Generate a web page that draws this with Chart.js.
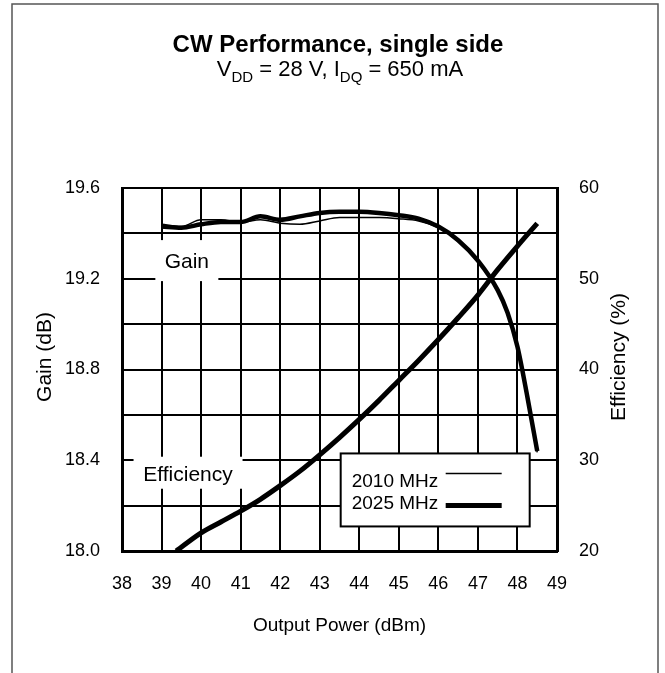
<!DOCTYPE html>
<html lang="en">
<head>
  <meta charset="UTF-8">
  <title>CW Performance, single side</title>
  <script src="https://cdn.jsdelivr.net/npm/chart.js"></script>
  <style>
    html, body { margin: 0; padding: 0; background: #fff; }
    canvas { display: block; }
  </style>
</head>
<body>
  <canvas id="chart" width="665" height="673"></canvas>

  <script>
    // output power (dBm) for the gain curves
    const powerGain = [39, 39.5, 40, 40.5, 41, 41.5, 42, 42.5, 43, 43.5, 44, 44.5, 45, 45.5, 46, 46.5, 47, 47.5, 47.75, 48, 48.25, 48.5];
    const gain2010 = [19.44, 19.43, 19.46, 19.46, 19.45, 19.46, 19.445, 19.44, 19.455, 19.47, 19.47, 19.47, 19.465, 19.455, 19.425, 19.365, 19.275, 19.145, 19.045, 18.895, 18.675, 18.435];
    const gain2025 = [19.43, 19.425, 19.44, 19.45, 19.45, 19.475, 19.46, 19.475, 19.49, 19.495, 19.495, 19.49, 19.48, 19.465, 19.43, 19.37, 19.28, 19.15, 19.05, 18.9, 18.68, 18.44];

    // output power (dBm) for the efficiency curves
    const powerEff = [39.37, 40, 40.5, 41, 41.5, 42, 42.5, 43, 43.5, 44, 44.5, 45, 45.5, 46, 46.5, 47, 47.5, 48, 48.5];
    const eff2010 = [20.0, 22.0, 23.2, 24.4, 25.7, 27.2, 28.8, 30.6, 32.5, 34.5, 36.6, 38.8, 41.0, 43.3, 45.7, 48.2, 51.0, 53.6, 56.0];
    const eff2025 = [20.0, 22.0, 23.2, 24.4, 25.7, 27.2, 28.8, 30.6, 32.5, 34.5, 36.6, 38.8, 41.0, 43.3, 45.7, 48.2, 51.0, 53.6, 56.1];

    const gainLabels = [18.0, 18.4, 18.8, 19.2, 19.6];
    const effLabels = [20, 30, 40, 50, 60];
    const seriesNames = ['2010 MHz', '2025 MHz'];

    const FONT = 'Liberation Sans, Arial, Helvetica, sans-serif';

    function pts(xs, ys) {
      return xs.map((x, i) => ({ x: x, y: ys[i] }));
    }

    function line(label, xs, ys, axis, width) {
      return {
        label: label,
        data: pts(xs, ys),
        yAxisID: axis,
        borderColor: '#000',
        borderWidth: width,
        pointRadius: 0,
        fill: false,
        cubicInterpolationMode: 'monotone'
      };
    }

    // title, subtitle, y titles, in-plot labels, legend, frame
    const decor = {
      id: 'decor',
      afterDatasetsDraw(chart) {
        const ctx = chart.ctx;
        const xs = chart.scales.x;
        const ys = chart.scales.y;
        ctx.save();

        // white label boxes over the grid
        function tag(text, px, gy, w, h) {
          const cx = xs.getPixelForValue(px);
          const cy = ys.getPixelForValue(gy);
          ctx.fillStyle = '#fff';
          ctx.fillRect(cx - w / 2, cy - h / 2, w, h);
          ctx.fillStyle = '#000';
          ctx.font = '21px ' + FONT;
          ctx.textAlign = 'center';
          ctx.textBaseline = 'middle';
          ctx.fillText(text, cx, cy + 2);
        }
        tag('Gain', 39.64, 19.28, 63, 41);
        tag('Efficiency', 39.67, 18.345, 109, 32);

        // legend box
        const lx = xs.getPixelForValue(43.53);
        const ly = ys.getPixelForValue(18.43);
        const lw = 189, lh = 73;
        ctx.fillStyle = '#fff';
        ctx.fillRect(lx, ly, lw, lh);
        ctx.strokeStyle = '#000';
        ctx.lineWidth = 2;
        ctx.strokeRect(lx, ly, lw, lh);
        ctx.fillStyle = '#000';
        ctx.font = '19px ' + FONT;
        ctx.textAlign = 'left';
        ctx.textBaseline = 'middle';
        ctx.fillText(seriesNames[0], lx + 11, ly + 28);
        ctx.fillText(seriesNames[1], lx + 11, ly + 50);
        ctx.lineWidth = 1.5;
        ctx.beginPath();
        ctx.moveTo(lx + 105, ly + 20);
        ctx.lineTo(lx + 161, ly + 20);
        ctx.stroke();
        ctx.lineWidth = 5;
        ctx.beginPath();
        ctx.moveTo(lx + 105, ly + 52);
        ctx.lineTo(lx + 161, ly + 52);
        ctx.stroke();

        // titles
        ctx.textAlign = 'center';
        ctx.textBaseline = 'alphabetic';
        ctx.font = 'bold 24px ' + FONT;
        ctx.fillText('CW Performance, single side', 338, 52);

        const parts = [
          ['V', false], ['DD', true], [' = 28 V, I', false], ['DQ', true], [' = 650 mA', false]
        ];
        const big = '22px ' + FONT, small = '15px ' + FONT;
        let total = 0;
        parts.forEach(p => { ctx.font = p[1] ? small : big; total += ctx.measureText(p[0]).width; });
        let x = 340 - total / 2;
        ctx.textAlign = 'left';
        parts.forEach(p => {
          ctx.font = p[1] ? small : big;
          ctx.fillText(p[0], x, p[1] ? 82 : 76);
          x += ctx.measureText(p[0]).width;
        });

        // rotated axis titles
        ctx.font = '21px ' + FONT;
        ctx.textAlign = 'center';
        ctx.textBaseline = 'middle';
        [['Gain (dB)', 45], ['Efficiency (%)', 619]].forEach(t => {
          ctx.save();
          ctx.translate(t[1], 357);
          ctx.rotate(-Math.PI / 2);
          ctx.fillText(t[0], 0, 0);
          ctx.restore();
        });

        // outer frame
        ctx.strokeStyle = '#555';
        ctx.lineWidth = 1.5;
        ctx.strokeRect(12, 4, 646, 700);
        ctx.restore();
      }
    };

    new Chart(document.getElementById('chart'), {
      type: 'line',
      data: {
        datasets: [
          line(seriesNames[0], powerGain, gain2010, 'y', 1.5),
          line(seriesNames[0], powerEff, eff2010, 'y1', 1.5),
          line(seriesNames[1], powerGain, gain2025, 'y', 4.5),
          line(seriesNames[1], powerEff, eff2025, 'y1', 5)
        ]
      },
      options: {
        responsive: false,
        animation: false,
        devicePixelRatio: 1,
        layout: { padding: { top: 188, left: 0, right: 0, bottom: 0 } },
        plugins: {
          legend: { display: false },
          tooltip: { enabled: false }
        },
        scales: {
          x: {
            type: 'linear',
            min: 38,
            max: 49,
            afterFit: s => { s.height = 122; },
            ticks: { stepSize: 1, color: '#000', padding: 22, font: { size: 18, family: FONT } },
            grid: { color: '#000', lineWidth: 2, drawTicks: false },
            border: { color: '#000', width: 3 },
            title: {
              display: true,
              text: 'Output Power (dBm)',
              color: '#000',
              font: { size: 19, family: FONT },
              padding: { top: 0, bottom: 36 }
            }
          },
          y: {
            position: 'left',
            min: 18,
            max: 19.6,
            afterFit: s => { s.width = 122; },
            ticks: {
              stepSize: 0.2,
              color: '#000',
              padding: 22,
              font: { size: 18, family: FONT },
              callback: v => gainLabels.some(g => Math.abs(g - v) < 1e-6) ? v.toFixed(1) : ''
            },
            grid: { color: '#000', lineWidth: 2, drawTicks: false },
            border: { color: '#000', width: 3 }
          },
          y1: {
            position: 'right',
            min: 20,
            max: 60,
            afterFit: s => { s.width = 108; },
            ticks: {
              stepSize: 10,
              color: '#000',
              padding: 22,
              font: { size: 18, family: FONT },
              callback: v => effLabels.includes(v) ? String(v) : ''
            },
            grid: { display: false, drawTicks: false },
            border: { color: '#000', width: 3 }
          }
        }
      },
      plugins: [decor]
    });
  </script>
</body>
</html>
